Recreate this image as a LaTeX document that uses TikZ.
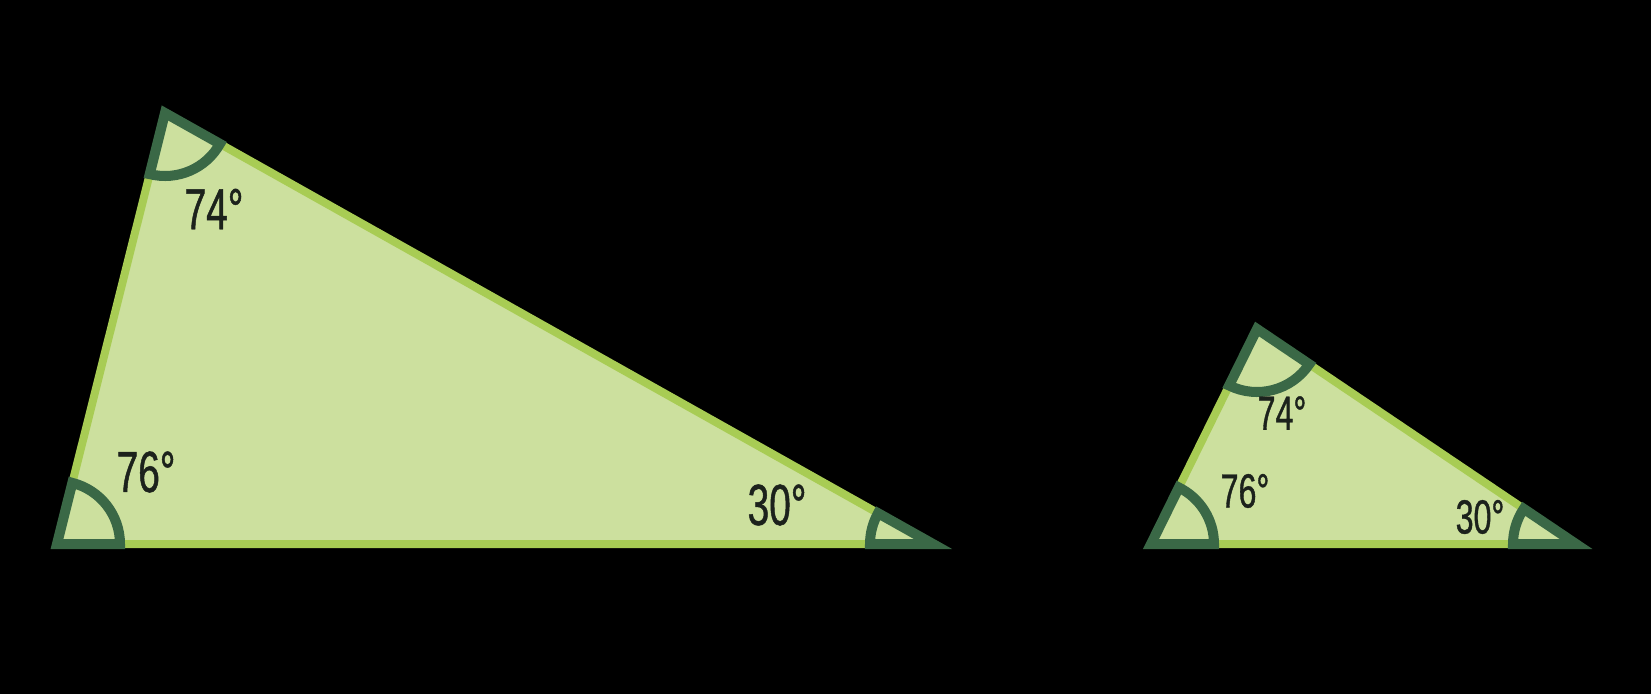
\documentclass[tikz,border=0pt]{standalone}
\usepackage{fontspec}
\usetikzlibrary{calc}
\newfontfamily\degfont[FakeStretch=0.67, FakeBold=0.8]{Liberation Sans}
\definecolor{leaf}{RGB}{204,224,158}
\definecolor{rim}{RGB}{168,204,84}
\definecolor{pine}{RGB}{58,104,70}
\definecolor{ink}{RGB}{28,34,28}

\begin{document}
\begin{tikzpicture}[
  x=1pt, y=-1pt,
  tri/.style={fill=leaf, draw=rim, line width=8pt, line join=round},
  wedge/.style={fill=leaf, draw=pine, line width=10pt, line join=miter},
  bigdeg/.style={text=ink, font=\degfont\fontsize{58}{58}\selectfont, inner sep=0pt},
  smalldeg/.style={text=ink, font=\degfont\fontsize{48}{48}\selectfont, inner sep=0pt},
]
  \fill[black] (0,0) rectangle (1651,694);
  \useasboundingbox (0,0) rectangle (1651,694);
  % big triangle
  \coordinate (L1) at (57,544);
  \coordinate (T1) at (165,113);
  \coordinate (R1) at (933,544);
  % small triangle
  \coordinate (L2) at (1151,544);
  \coordinate (T2) at (1257,329);
  \coordinate (R2) at (1576,544);
  \draw[tri] (L1) -- (T1) -- (R1) -- cycle;
  \draw[tri] (L2) -- (T2) -- (R2) -- cycle;
  \foreach \v/\a/\b in {L1/R1/T1, T1/L1/R1, R1/T1/L1, L2/R2/T2, T2/L2/R2, R2/T2/L2}
    {\draw[wedge] let \p1=($(\a)-(\v)$), \p2=($(\b)-(\v)$),
       \n1={atan2(\y1,\x1)}, \n2={atan2(\y2,\x2)}, \n3={mod(\n2-\n1+540,360)-180}
       in (\v) -- ++(\n1:63pt) arc[start angle=\n1, delta angle=\n3, radius=63pt] -- cycle;}
  \node[bigdeg] (top1) at (214,209) {74°};
  \node[bigdeg] (left1) at (146,472) {76°};
  \node[bigdeg] (right1) at (777,505) {30°};
  \node[smalldeg] (top2) at (1282,413) {74°};
  \node[smalldeg] (left2) at (1245,491) {76°};
  \node[smalldeg] (right2) at (1480,517) {30°};
\end{tikzpicture}
\end{document}
